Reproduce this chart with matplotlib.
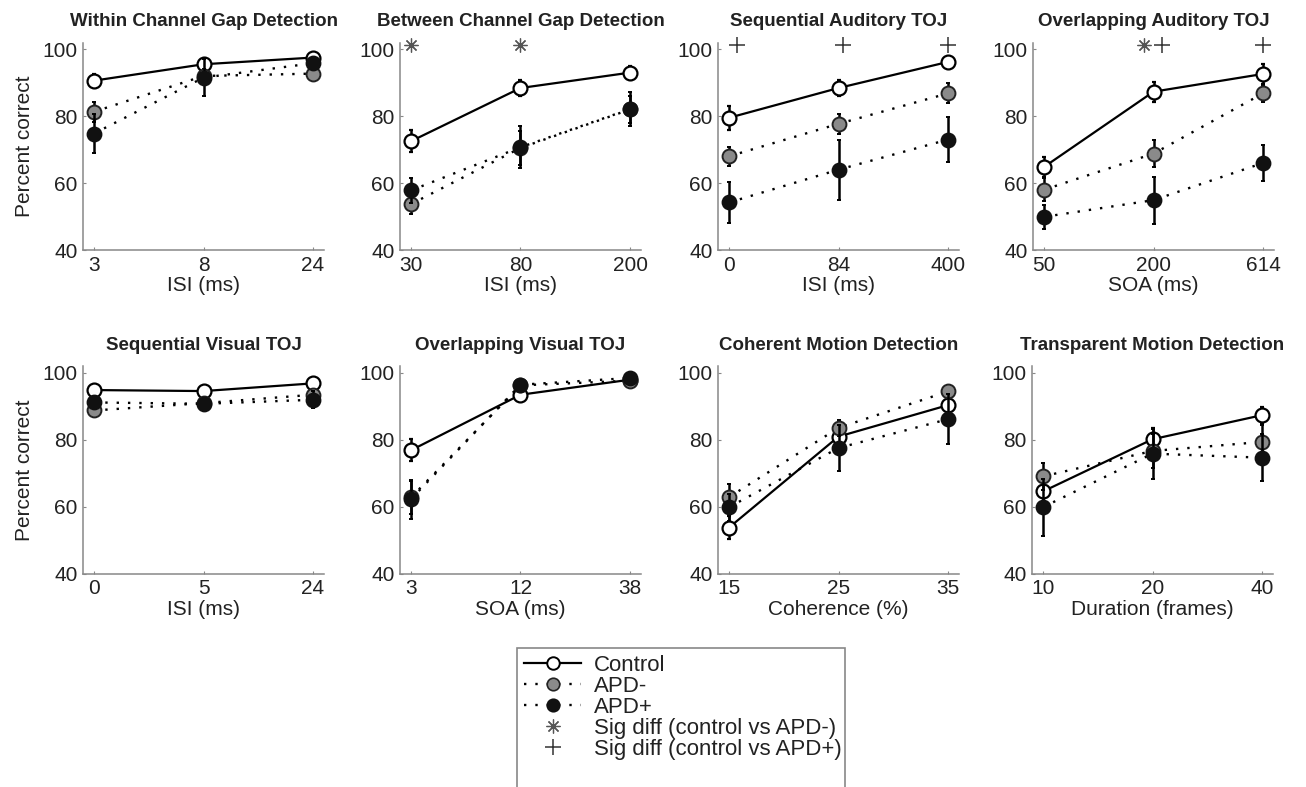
import matplotlib
matplotlib.use("Agg")
import matplotlib.pyplot as plt
from matplotlib.lines import Line2D
from matplotlib.patches import Rectangle

plt.rcParams['font.family'] = ['Liberation Sans', 'DejaVu Sans']

# ---------------- data ----------------
titles = ["Within Channel Gap Detection", "Between Channel Gap Detection",
          "Sequential Auditory TOJ", "Overlapping Auditory TOJ",
          "Sequential Visual TOJ", "Overlapping Visual TOJ",
          "Coherent Motion Detection", "Transparent Motion Detection"]
xlabels = ["ISI (ms)", "ISI (ms)", "ISI (ms)", "SOA (ms)",
           "ISI (ms)", "SOA (ms)", "Coherence (%)", "Duration (frames)"]
xticklabels = [["3", "8", "24"], ["30", "80", "200"], ["0", "84", "400"], ["50", "200", "614"],
               ["0", "5", "24"], ["3", "12", "38"], ["15", "25", "35"], ["10", "20", "40"]]

control_mean = [[90.6, 95.5, 97.5], [72.5, 88.4, 93.0], [79.5, 88.4, 96.2], [64.8, 87.3, 92.6],
                [94.9, 94.6, 96.9], [76.9, 93.5, 98.0], [53.8, 81.0, 90.4], [64.6, 80.2, 87.4]]
control_err = [[2.0, 1.5, 1.5], [3.3, 2.5, 2.0], [3.5, 2.5, 1.5], [3.0, 3.0, 3.0],
               [1.0, 1.0, 1.0], [3.3, 1.5, 1.0], [3.5, 3.0, 3.0], [3.0, 3.5, 2.5]]
apdm_mean = [[81.3, 92.0, 92.7], [53.7, 70.5, 82.0], [68.0, 77.7, 86.8], [58.0, 68.8, 86.8],
             [88.8, 91.0, 93.5], [62.8, 96.3, 97.7], [62.9, 83.6, 94.5], [69.1, 76.7, 79.4]]
apdm_err = [[3.0, 2.0, 2.0], [3.0, 5.0, 4.0], [2.8, 3.0, 3.0], [3.5, 4.0, 2.5],
            [1.0, 1.0, 1.5], [5.0, 1.0, 1.0], [3.8, 2.5, 1.5], [4.0, 5.0, 5.0]]
apdp_mean = [[74.8, 91.5, 95.8], [57.8, 70.7, 82.1], [54.2, 64.0, 73.0], [49.9, 54.9, 66.0],
             [91.2, 90.8, 92.0], [62.3, 96.5, 98.5], [59.9, 77.6, 86.2], [59.9, 75.9, 74.7]]
apdp_err = [[5.8, 5.5, 2.0], [3.7, 6.3, 5.0], [6.0, 9.0, 6.7], [3.5, 7.0, 5.5],
            [1.5, 1.5, 2.5], [5.8, 1.2, 1.5], [4.0, 7.0, 7.5], [8.5, 7.5, 7.0]]

# significance markers: category positions per panel
sig_apdm_x = [[], [0, 1], [], [0.91], [], [], [], []]
sig_apdp_x = [[], [], [0.07, 1.04, 2], [1.08, 2], [], [], [], []]
sig_y = 101.2

legend_labels = ["Control", "APD-", "APD+",
                 "Sig diff (control vs APD-)", "Sig diff (control vs APD+)"]

# ---------------- layout ----------------
W, H = 1306, 787
fig = plt.figure(figsize=(W / 100, H / 100), dpi=100)

lefts = [83, 400, 718, 1033, 83, 400, 718, 1032]
axw = 241
tops = [42.5, 42.5, 42.5, 42.5, 366.3, 366.3, 366.3, 366.3]
axh = 207.5

txt_col = '#222222'
spine_col = '#888888'
grey_fill = '#8a8a8a'
dot_ls = (0, (1, 3.8))

ast_kw = dict(ls='none', marker=(8, 2, 0), ms=10, mew=0.9, color='#555555')
plus_kw = dict(ls='none', marker='+', ms=11, mew=1.1, color='#333333')

for i in range(8):
    l, t = lefts[i], tops[i]
    ax = fig.add_axes([l / W, 1 - (t + axh) / H, axw / W, axh / H])
    x = [0, 1, 2]
    ax.errorbar(x, control_mean[i], yerr=control_err[i], color='black', lw=1.6,
                elinewidth=1.8, capsize=1.5, capthick=1.2, marker='o', ms=10,
                mfc='white', mec='black', mew=1.6, zorder=3)
    ax.errorbar(x, apdm_mean[i], yerr=apdm_err[i], color='black', lw=1.7,
                ls=dot_ls, elinewidth=1.8, capsize=1.5, capthick=1.2,
                marker='o', ms=10, mfc=grey_fill, mec='#222222', mew=1.4, zorder=4)
    ax.errorbar(x, apdp_mean[i], yerr=apdp_err[i], color='black', lw=1.7,
                ls=dot_ls, elinewidth=1.8, capsize=1.5, capthick=1.2,
                marker='o', ms=10, mfc='#111111', mec='#111111', mew=1.4, zorder=5)
    if sig_apdm_x[i]:
        ax.plot(sig_apdm_x[i], [sig_y] * len(sig_apdm_x[i]), clip_on=False, zorder=6, **ast_kw)
    if sig_apdp_x[i]:
        ax.plot(sig_apdp_x[i], [sig_y] * len(sig_apdp_x[i]), clip_on=False, zorder=6, **plus_kw)

    ax.set_xlim(-0.1, 2.1)
    ax.set_ylim(40, 102)
    ax.set_xticks(x)
    ax.set_xticklabels(xticklabels[i])
    ax.set_yticks([40, 60, 80, 100])
    for s in ['top', 'right']:
        ax.spines[s].set_visible(False)
    for s in ['left', 'bottom']:
        ax.spines[s].set_color(spine_col)
        ax.spines[s].set_linewidth(1.1)
    ax.tick_params(direction='in', length=2.5, width=0.8, color=spine_col,
                   labelsize=15, labelcolor=txt_col, pad=4)
    ax.set_xlabel(xlabels[i], fontsize=15, color=txt_col, labelpad=1)
    ax.set_title(titles[i], fontsize=13.5, fontweight='bold', color=txt_col, pad=12)
    if i % 4 == 0:
        ax.set_ylabel("Percent correct", fontsize=15, color=txt_col, labelpad=6)

# ---------------- legend ----------------
handles = [
    Line2D([], [], color='black', lw=1.6, marker='o', ms=9, mfc='white', mec='black', mew=1.4),
    Line2D([], [], color='black', lw=1.7, ls=dot_ls, marker='o', ms=9,
           mfc=grey_fill, mec='#222222', mew=1.2),
    Line2D([], [], color='black', lw=1.7, ls=dot_ls, marker='o', ms=9,
           mfc='#111111', mec='#111111', mew=1.2),
    Line2D([], [], **ast_kw),
    Line2D([], [], **plus_kw),
]
leg = fig.legend(handles, legend_labels, loc='upper left',
                 bbox_to_anchor=(517 / W, 1 - 648 / H), fontsize=16,
                 handlelength=2.6, handletextpad=0.55, labelspacing=0.0,
                 borderpad=0.3, borderaxespad=0, frameon=False)
for tx in leg.get_texts():
    tx.set_color(txt_col)

# legend frame that runs off the bottom of the figure, as in the original
fig.patches.append(Rectangle((517 / W, -0.05), (845 - 517) / W, 0.05 + (787 - 648) / H,
                             transform=fig.transFigure, fill=False,
                             edgecolor=spine_col, linewidth=1.2, clip_on=False))

fig.savefig("out.png", dpi=100)
